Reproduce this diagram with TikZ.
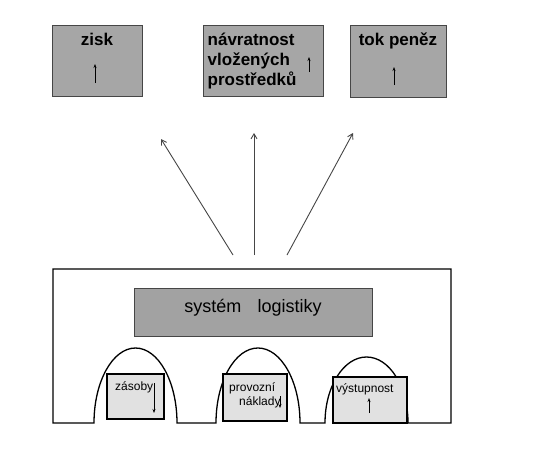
\documentclass[tikz,border=0pt]{standalone}
\usepackage{fontspec}
\setmainfont{Liberation Sans}
\usetikzlibrary{arrows.meta}
\definecolor{boxgray}{RGB}{166,166,166}
\definecolor{sysgray}{RGB}{162,162,162}
\definecolor{lightbox}{RGB}{225,225,225}
\definecolor{edgegray}{RGB}{70,70,70}
\begin{document}
\begin{tikzpicture}[x=1pt,y=-1pt,
  topbox/.style={draw=edgegray,fill=boxgray,line width=0.9pt,inner sep=0pt,outer sep=0pt,anchor=north west},
  sysbox/.style={draw=edgegray,fill=sysgray,line width=0.9pt,inner sep=0pt,outer sep=0pt,anchor=north west},
  smallbox/.style={draw=black,fill=lightbox,line width=1.2pt,inner sep=0pt,outer sep=0pt,anchor=north west},
  toptext/.style={font=\fontsize{17}{20}\selectfont\bfseries,inner sep=0pt},
  systext/.style={font=\fontsize{18}{22}\selectfont,inner sep=0pt},
  lowtext/.style={font=\fontsize{12}{14}\selectfont,inner sep=0pt},
  tinyarrow/.style={-{Stealth[length=4pt,width=3pt]},line width=0.8pt},
  bigarrow/.style={-{Straight Barb[length=5pt,width=6pt]},draw=edgegray,line width=0.9pt},
  outline/.style={draw=black,line width=1.3pt}]
\useasboundingbox (0,0) rectangle (540,455);
% top boxes
\node[topbox,minimum width=90pt,minimum height=71pt] (zisk) at (52,25) {};
\node[topbox,minimum width=120pt,minimum height=71pt] (navr) at (203,25) {};
\node[topbox,minimum width=96pt,minimum height=72pt] (tok) at (350,25) {};
\node[toptext,anchor=base] (tzisk) at (97,45) {zisk};
\node[toptext,anchor=base west] (tn1) at (207.5,45) {návratnost};
\node[toptext,anchor=base west] (tn2) at (207.5,65) {vložených};
\node[toptext,anchor=base west] (tn3) at (207.5,85) {prostředků};
\node[toptext,anchor=base] (ttok) at (398,45) {tok peněz};
\coordinate (za) at (95,83); \coordinate (zb) at (95,64);
\coordinate (na) at (309,72); \coordinate (nb) at (309,57);
\coordinate (ta) at (394,85); \coordinate (tb) at (394,67);
\draw[tinyarrow] (za) -- (zb);
\draw[tinyarrow] (na) -- (nb);
\draw[tinyarrow] (ta) -- (tb);
% big arrows
\coordinate (s1) at (233,255); \coordinate (e1) at (161,139);
\coordinate (s2) at (254,255); \coordinate (e2) at (254,133);
\coordinate (s3) at (287,255); \coordinate (e3) at (353,133);
\draw[bigarrow] (s1) -- (e1);
\draw[bigarrow] (s2) -- (e2);
\draw[bigarrow] (s3) -- (e3);
% outline with arches
\draw[outline,line join=miter] (408,423) -- (451,423) -- (451,269) -- (53,269) -- (53,423) -- (94,423)
  .. controls (94,381.6) and (112.6,348) .. (135.5,348)
  .. controls (158.4,348) and (177,381.6) .. (177,423)
  -- (216,423)
  .. controls (216,381.6) and (234.8,348) .. (258,348)
  .. controls (281.2,348) and (300,381.6) .. (300,423)
  -- (325,423)
  .. controls (325,386.5) and (343.6,357) .. (366.5,357)
  .. controls (389.4,357) and (408,386.5) .. (408,423);
% system box
\node[sysbox,minimum width=238pt,minimum height=48pt] (sys) at (134,288) {};
\node[systext,anchor=base] (tsys) at (253,312) {systém\hspace{0.9em}logistiky};
% lower boxes
\node[smallbox,minimum width=57pt,minimum height=45pt] (zas) at (107,374) {};
\node[smallbox,minimum width=64pt,minimum height=47pt] (prov) at (223,374) {};
\node[smallbox,minimum width=74pt,minimum height=46pt] (vys) at (333,377) {};
\node[lowtext,anchor=base west] (tzas) at (115,390) {zásoby};
\node[lowtext,anchor=base west] (tprov1) at (229,391) {provozní};
\node[lowtext,anchor=base west] (tprov2) at (239,405) {náklady};
\node[lowtext,anchor=base west] (tvys) at (336,392) {výstupnost};
\coordinate (la) at (154,383); \coordinate (lb) at (154,413);
\coordinate (pa) at (280,396); \coordinate (pb) at (280,408);
\coordinate (va) at (369,413); \coordinate (vb) at (369,398);
\draw[tinyarrow] (la) -- (lb);
\draw[tinyarrow] (pa) -- (pb);
\draw[tinyarrow] (va) -- (vb);
\end{tikzpicture}
\end{document}
